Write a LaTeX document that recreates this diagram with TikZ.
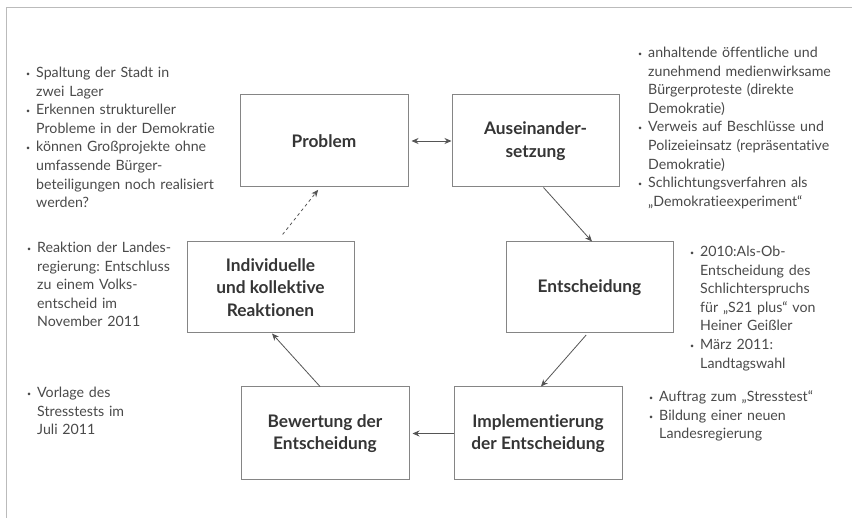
\documentclass[tikz,border=0pt]{standalone}
\usepackage{fontspec}
\setmainfont{Lato}[Ligatures=NoCommon]
\usetikzlibrary{arrows.meta}
\frenchspacing
\definecolor{notecol}{HTML}{4A4A4A}
\definecolor{boxtxt}{HTML}{353535}
\definecolor{boxline}{HTML}{858585}
\definecolor{arrcol}{HTML}{555555}
\definecolor{framecol}{HTML}{BBBBBB}
\newcommand\bu{\makebox[10pt][l]{\raisebox{0.15ex}{\scriptsize\textbullet}}}
\newcommand\ii{\hspace*{10pt}}
\tikzset{
  stepbox/.style={draw=boxline, line width=1pt, minimum width=168, minimum height=92,
    align=center, text=boxtxt, inner sep=2pt,
    font=\fontsize{17.3}{22.5}\selectfont\bfseries},
  note/.style={anchor=base west, inner sep=0pt, text width=230, align=left, text=notecol,
    font=\fontsize{14.2}{18.6}\selectfont},
  conn/.style={draw=arrcol, line width=0.8pt, -{Stealth[length=7pt,width=6pt]}},
}
\begin{document}
\begin{tikzpicture}[x=1pt,y=-1pt]
\useasboundingbox (0,0) rectangle (852,518);
\fill[white] (0,0) rectangle (852,518);
\draw[framecol, line width=1pt] (852,8) -- (6,8) -- (6,518);

\node[stepbox] (prob)   at (324,141)   {Problem};
\node[stepbox, minimum width=167] (ause) at (535.5,141) {Auseinander-\\setzung};
\node[stepbox, minimum width=167, minimum height=91] (entsch) at (589.5,287.5) {Entscheidung};
\node[stepbox, minimum width=167, minimum height=91] (indiv) at (270.5,287.5) {Individuelle\\und kollektive\\Reaktionen};
\node[stepbox, minimum height=93] (bewert) at (325,433.5) {Bewertung der\\Entscheidung};
\node[stepbox, minimum height=93] (impl) at (538,433.5) {Implementierung\\der Entscheidung};

\draw[conn, {Stealth[length=7pt,width=6pt]}-{Stealth[length=7pt,width=6pt]}, shorten <=3pt] (prob.east) -- (ause.west);
\draw[conn] ([xshift=8pt]ause.south) -- ([xshift=2.5pt]entsch.north);
\draw[conn, shorten <=2pt] ([xshift=-2pt]entsch.south) -- ([xshift=3pt]impl.north);
\draw[conn, shorten >=3pt] (impl.west) -- (bewert.east);
\draw[conn] ([xshift=-5pt]bewert.north) -- ([xshift=1.5pt]indiv.south);
\draw[conn, dashed, shorten <=9pt, shorten >=3pt] ([xshift=6.5pt]indiv.north) -- ([xshift=-4pt]prob.south);

\node[note] (n1) at (26,77.5) {\bu Spaltung der Stadt in\\\ii zwei Lager\\\bu Erkennen struktureller\\\ii Probleme in der Demokratie\\\bu können Großprojekte ohne\\\ii umfassende Bürger-\\\ii beteiligungen noch realisiert\\\ii werden?};
\node[note] (n2) at (27,252.5) {\bu Reaktion der Landes-\\\ii regierung: Entschluss\\\ii zu einem Volks-\\\ii entscheid im\\\ii November 2011};
\node[note] (n3) at (27,397.5) {\bu Vorlage des\\\ii Stresstests im\\\ii Juli 2011};
\node[note] (n4) at (638,57.5) {\bu anhaltende öffentliche und\\\ii zunehmend medienwirksame\\\ii Bürgerproteste (direkte\\\ii Demokratie)\\\bu Verweis auf Beschlüsse und\\\ii Polizeieinsatz (repräsentative\\\ii Demokratie)\\\bu Schlichtungsverfahren als\\\ii „Demokratieexperiment“};
\node[note] (n5) at (690,256.5) {\bu 2010:Als-Ob-\\\ii Entscheidung des\\\ii Schlichterspruchs\\\ii für „S21 plus“ von\\\ii Heiner Geißler\\\bu März 2011:\\\ii Landtagswahl};
\node[note] (n6) at (649,401.5) {\bu Auftrag zum „Stresstest“\\\bu Bildung einer neuen\\\ii Landesregierung};
\end{tikzpicture}
\end{document}
